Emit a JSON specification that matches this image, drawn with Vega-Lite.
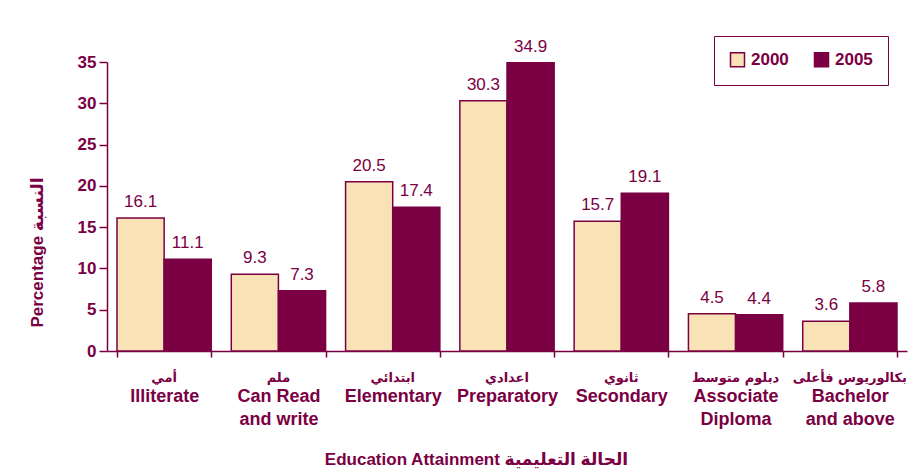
{
  "$schema": "https://vega.github.io/schema/vega-lite/v6.json",
  "width": 800,
  "height": 289,
  "autosize": {"type": "none"},
  "padding": {"left": 107, "top": 62, "right": 2, "bottom": 120},
  "background": "white",
  "config": {
    "font": "Liberation Sans, DejaVu Sans",
    "view": {"stroke": null},
    "axis": {"grid": false, "domainColor": "#7A0043", "tickColor": "#7A0043", "labelColor": "#7A0043", "titleColor": "#7A0043", "domainWidth": 1.5, "tickWidth": 1.5}
  },
  "data": {
    "values": [
      {"cat": "Illiterate", "ar": "أمي", "year": "2000", "value": 16.1},
      {"cat": "Illiterate", "ar": "أمي", "year": "2005", "value": 11.1},
      {"cat": "Can Read|and write", "ar": "ملم", "year": "2000", "value": 9.3},
      {"cat": "Can Read|and write", "ar": "ملم", "year": "2005", "value": 7.3},
      {"cat": "Elementary", "ar": "ابتدائي", "year": "2000", "value": 20.5},
      {"cat": "Elementary", "ar": "ابتدائي", "year": "2005", "value": 17.4},
      {"cat": "Preparatory", "ar": "اعدادي", "year": "2000", "value": 30.3},
      {"cat": "Preparatory", "ar": "اعدادي", "year": "2005", "value": 34.9},
      {"cat": "Secondary", "ar": "ثانوي", "year": "2000", "value": 15.7},
      {"cat": "Secondary", "ar": "ثانوي", "year": "2005", "value": 19.1},
      {"cat": "Associate|Diploma", "ar": "دبلوم متوسط", "year": "2000", "value": 4.5},
      {"cat": "Associate|Diploma", "ar": "دبلوم متوسط", "year": "2005", "value": 4.4},
      {"cat": "Bachelor|and above", "ar": "بكالوريوس فأعلى", "year": "2000", "value": 3.6},
      {"cat": "Bachelor|and above", "ar": "بكالوريوس فأعلى", "year": "2005", "value": 5.8}
    ]
  },
  "encoding": {
    "x": {
      "field": "cat", "type": "nominal", "sort": null,
      "scale": {"paddingInner": 0.175, "paddingOuter": 0.0875},
      "axis": {
        "title": "Education Attainment الحالة التعليمية",
        "titleFontSize": 17, "titleFontWeight": "bold",
        "titleX": 369, "titleY": 108, "titleBaseline": "middle",
        "labelAngle": 0, "labelFontSize": 18, "labelFontWeight": "bold",
        "labelExpr": "split(datum.label, '|')", "labelLineHeight": 23,
        "labelPadding": 30, "labelBaseline": "top", "tickBand": "extent", "tickSize": 6, "labelLimit": 200
      }
    },
    "y": {
      "field": "value", "type": "quantitative",
      "scale": {"domain": [0, 35], "nice": false},
      "axis": {
        "values": [0, 5, 10, 15, 20, 25, 30, 35],
        "title": "Percentage النسبة", "titleFontSize": 17, "titleFontWeight": "bold",
        "titleX": -70, "titleY": 190, "titleAlign": "center", "titleBaseline": "middle",
        "labelFontSize": 17, "labelFontWeight": "bold", "tickSize": 8, "labelPadding": 3
      }
    }
  },
  "layer": [
    {
      "mark": {"type": "bar", "stroke": "#7A0043", "strokeWidth": 1.5},
      "encoding": {
        "xOffset": {"field": "year", "type": "nominal", "scale": {"paddingInner": 0, "paddingOuter": 0}},
        "color": {
          "field": "year", "type": "nominal",
          "scale": {"domain": ["2000", "2005"], "range": ["#F8E2B6", "#7A0043"]},
          "legend": {
            "title": null, "orient": "none", "direction": "horizontal",
            "legendX": 607, "legendY": -26,
            "strokeColor": "#7A0043", "padding": 15,
            "symbolType": "square", "symbolSize": 196, "symbolStrokeColor": "#7A0043", "symbolStrokeWidth": 1.5,
            "labelFontSize": 17, "labelFontWeight": "bold", "labelColor": "#7A0043",
            "columnPadding": 22, "labelOffset": 5
          }
        }
      }
    },
    {
      "mark": {"type": "text", "dy": -7, "fontSize": 17, "color": "#7A0043", "baseline": "bottom"},
      "encoding": {
        "xOffset": {"field": "year", "type": "nominal", "scale": {"paddingInner": 0, "paddingOuter": 0}},
        "text": {"field": "value", "type": "quantitative", "format": ".1f"}
      }
    },
    {
      "transform": [{"filter": "datum.year == '2000'"}],
      "mark": {"type": "text", "dy": 27, "fontSize": 13, "fontWeight": "bold", "color": "#7A0043", "baseline": "middle", "font": "DejaVu Sans"},
      "encoding": {
        "y": {"datum": 0},
        "text": {"field": "ar", "type": "nominal"}
      }
    }
  ]
}
